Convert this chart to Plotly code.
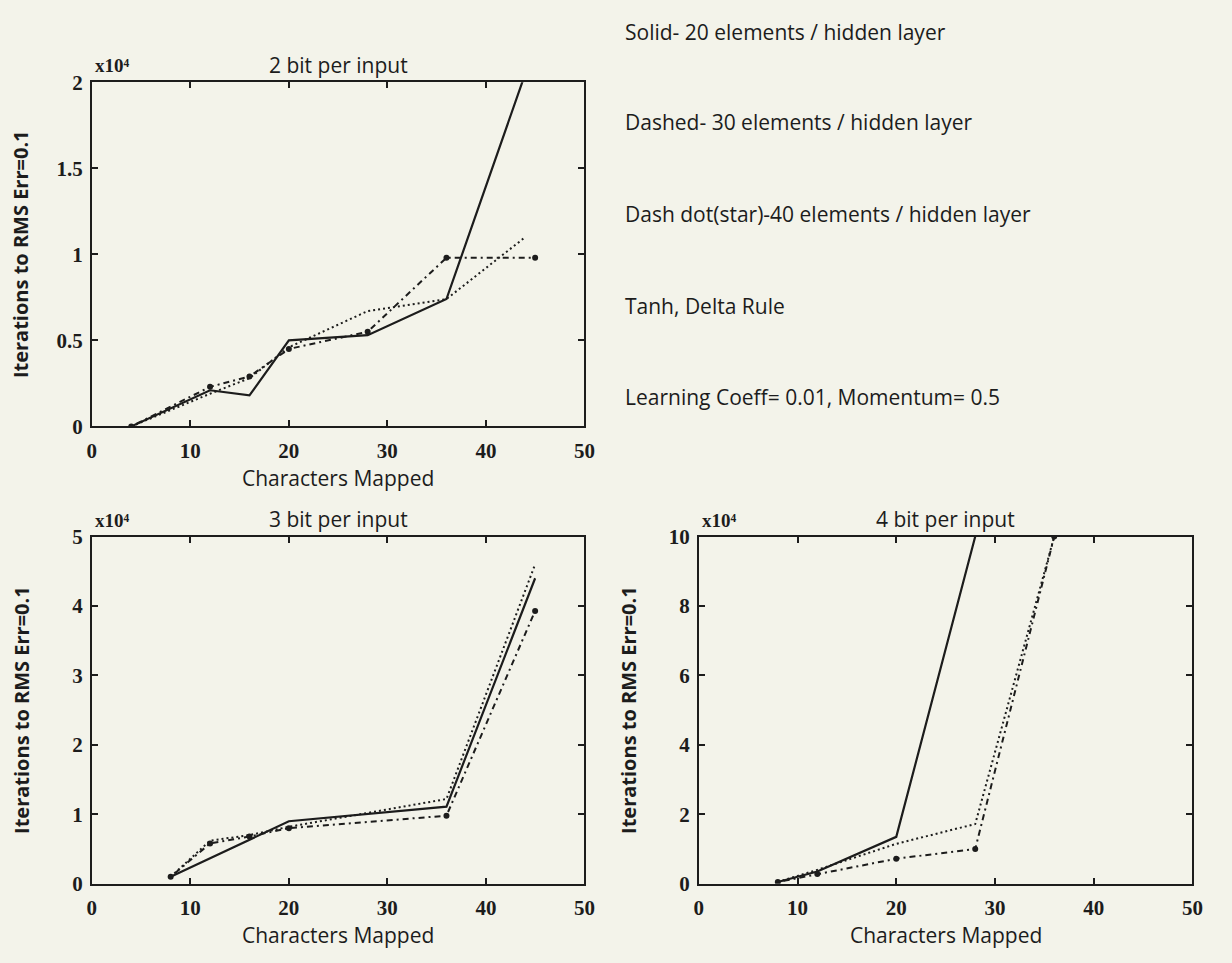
import plotly.graph_objects as go

# ---------------- data (y in units of x10^4 iterations) ----------------
# 2 bit per input
x_tl_solid = [4, 12, 16, 20, 28, 36, 44]
y_tl_solid = [0, 0.21, 0.18, 0.50, 0.53, 0.74, 2.05]
x_tl_dash = [4, 12, 16, 20, 28, 36, 44]
y_tl_dash = [0, 0.19, 0.28, 0.46, 0.67, 0.74, 1.10]
x_tl_star = [4, 12, 16, 20, 28, 36, 45]
y_tl_star = [0, 0.23, 0.29, 0.45, 0.55, 0.98, 0.98]

# 3 bit per input
x_bl_solid = [8, 20, 36, 45]
y_bl_solid = [0.10, 0.90, 1.11, 4.40]
x_bl_dash = [8, 12, 16, 20, 36, 45]
y_bl_dash = [0.10, 0.62, 0.70, 0.82, 1.22, 4.60]
x_bl_star = [8, 12, 16, 20, 36, 45]
y_bl_star = [0.10, 0.58, 0.68, 0.80, 0.98, 3.93]

# 4 bit per input
x_br_solid = [8, 12, 20, 28]
y_br_solid = [0.05, 0.35, 1.35, 10.0]
x_br_dash = [8, 12, 20, 28, 36]
y_br_dash = [0.05, 0.40, 1.15, 1.72, 10.0]
x_br_star = [8, 12, 20, 28, 36]
y_br_star = [0.05, 0.28, 0.72, 1.00, 10.0]

x_ticks = [0, 10, 20, 30, 40, 50]
y_ticks_tl = [0, 0.5, 1, 1.5, 2]
y_ticks_tl_text = ["0", "0.5", "1", "1.5", "2"]
y_ticks_bl = [0, 1, 2, 3, 4, 5]
y_ticks_br = [0, 2, 4, 6, 8, 10]

titles = ["2 bit per input", "3 bit per input", "4 bit per input"]
x_title = "Characters Mapped"
y_title = "Iterations to RMS Err=0.1"
scale_label = "x10⁴"
notes = [
    "Solid- 20 elements / hidden layer",
    "Dashed- 30 elements / hidden layer",
    "Dash dot(star)-40 elements / hidden layer",
    "Tanh, Delta Rule",
    "Learning Coeff= 0.01, Momentum= 0.5",
]

# ---------------- layout helpers ----------------
W, H = 1232, 963
BG = "#f3f3ea"
INK = "#1c1c1c"
TXT_FONT = "Open Sans"
TICK_FONT = "Liberation Serif"

def px_x(p):
    return p / W

def px_y(p):
    return 1 - p / H

# frames in pixels: (left, top, right, bottom)
frames = {
    "tl": (88, 72, 587, 425),
    "bl": (88, 538, 587, 894),
    "br": (703, 538, 1203, 894),
}

fig = go.Figure()

panels = [
    ("tl", "x", "y", (x_tl_solid, y_tl_solid), (x_tl_dash, y_tl_dash), (x_tl_star, y_tl_star)),
    ("bl", "x2", "y2", (x_bl_solid, y_bl_solid), (x_bl_dash, y_bl_dash), (x_bl_star, y_bl_star)),
    ("br", "x3", "y3", (x_br_solid, y_br_solid), (x_br_dash, y_br_dash), (x_br_star, y_br_star)),
]

for key, xa, ya, solid, dash, star in panels:
    fig.add_trace(go.Scatter(x=solid[0], y=solid[1], xaxis=xa, yaxis=ya, mode="lines",
                             line=dict(color=INK, width=2.2), showlegend=False))
    fig.add_trace(go.Scatter(x=dash[0], y=dash[1], xaxis=xa, yaxis=ya, mode="lines",
                             line=dict(color=INK, width=2, dash="2px,3px"), showlegend=False))
    fig.add_trace(go.Scatter(x=star[0], y=star[1], xaxis=xa, yaxis=ya, mode="lines+markers",
                             line=dict(color=INK, width=2, dash="2px,4px,6px,4px"),
                             marker=dict(color=INK, size=6, symbol="circle"),
                             cliponaxis=True, showlegend=False))

axis_common = dict(
    showline=True, linecolor=INK, linewidth=2, mirror="allticks",
    ticks="inside", ticklen=6, tickwidth=1.5, tickcolor=INK,
    showgrid=False, zeroline=False,
    tickfont=dict(family=TICK_FONT, size=21, color=INK, weight="bold"),
)

def dom(key):
    l, t, r, b = frames[key]
    return [px_x(l), px_x(r)], [px_y(b), px_y(t)]

xd, yd = dom("tl")
fig.update_layout(
    xaxis=dict(domain=xd, range=[0, 50], tickvals=x_ticks, anchor="y",
               ticklabelstandoff=4, **axis_common),
    yaxis=dict(domain=yd, range=[0, 2], tickvals=y_ticks_tl, ticktext=y_ticks_tl_text,
               anchor="x", ticklabelstandoff=3, **axis_common),
)
xd, yd = dom("bl")
fig.update_layout(
    xaxis2=dict(domain=xd, range=[0, 50], tickvals=x_ticks, anchor="y2",
                ticklabelstandoff=4, **axis_common),
    yaxis2=dict(domain=yd, range=[0, 5], tickvals=y_ticks_bl, anchor="x2",
                ticklabelstandoff=3, **axis_common),
)
xd, yd = dom("br")
fig.update_layout(
    xaxis3=dict(domain=xd, range=[0, 50], tickvals=x_ticks, anchor="y3",
                ticklabelstandoff=4, **axis_common),
    yaxis3=dict(domain=yd, range=[0, 10], tickvals=y_ticks_br, anchor="x3",
                ticklabelstandoff=3, **axis_common),
)

annotations = []
for key, title in zip(["tl", "bl", "br"], titles):
    l, t, r, b = frames[key]
    annotations.append(dict(x=px_x((l + r) / 2), y=px_y(t - 18), xref="paper", yref="paper",
                            text=title, showarrow=False, xanchor="center", yanchor="middle",
                            font=dict(family=TXT_FONT, size=21, color=INK)))
    annotations.append(dict(x=px_x((l + r) / 2), y=px_y(b + 53), xref="paper", yref="paper",
                            text=x_title, showarrow=False, xanchor="center", yanchor="middle",
                            font=dict(family=TXT_FONT, size=21, color=INK)))
    annotations.append(dict(x=px_x(l - 72), y=px_y((t + b) / 2), xref="paper", yref="paper",
                            text=y_title, showarrow=False, textangle=-90,
                            xanchor="center", yanchor="middle",
                            font=dict(family=TXT_FONT, size=20, color=INK, weight="bold")))
    annotations.append(dict(x=px_x(l + 1), y=px_y(t - 4), xref="paper", yref="paper",
                            text=scale_label, showarrow=False, xanchor="left", yanchor="bottom",
                            font=dict(family=TICK_FONT, size=19, color=INK, weight="bold")))

note_y = [20, 113, 207, 302, 395]
for txt, yy in zip(notes, note_y):
    annotations.append(dict(x=px_x(626), y=px_y(yy), xref="paper", yref="paper",
                            text=txt, showarrow=False, xanchor="left", yanchor="middle",
                            font=dict(family=TXT_FONT, size=21, color=INK)))

fig.update_layout(
    width=W, height=H,
    margin=dict(l=0, r=0, t=0, b=0),
    paper_bgcolor=BG, plot_bgcolor=BG,
    annotations=annotations,
    showlegend=False,
)

fig.write_html(
    "out.html",
    config={"displayModeBar": False},
    post_script="document.body.style.margin='0';document.body.style.background='" + BG + "';",
)
